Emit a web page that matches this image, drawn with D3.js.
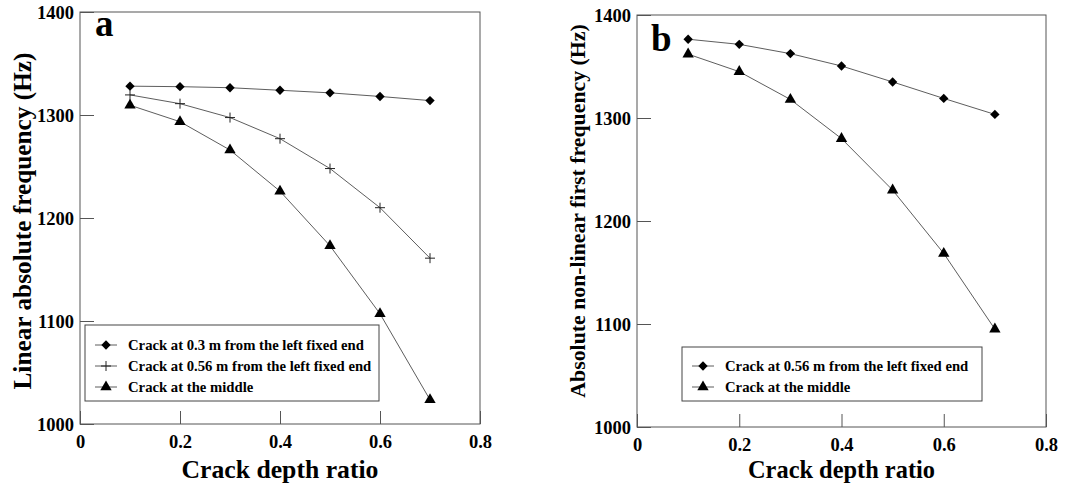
<!DOCTYPE html>
<html>
<head>
<meta charset="utf-8">
<script src="https://cdn.jsdelivr.net/npm/d3@7"></script>
<style>
    body { margin: 0; background: #fff; }
    svg text { font-family: "Liberation Serif", "Times New Roman", serif !important; font-weight: bold; fill: #000; }
</style>
</head>
<body>
<script>
// crack depth ratio on x, frequency (Hz) on y
const depthRatio = [0.1, 0.2, 0.3, 0.4, 0.5, 0.6, 0.7];

// panel a: linear absolute frequency
const aCrack030 = [1328, 1327.5, 1326.5, 1324, 1321.5, 1318, 1314];
const aCrack056 = [1319.5, 1311, 1297.5, 1277, 1248, 1210, 1161];
const aCrackMid = [1309.5, 1293.5, 1266, 1226, 1173, 1107, 1023.5];

// panel b: absolute non-linear first frequency
const bCrack056 = [1376.5, 1371.5, 1362.5, 1350.5, 1335, 1319, 1303.5];
const bCrackMid = [1362, 1345, 1318, 1280, 1230, 1168.5, 1095];

const xTicks = [0, 0.2, 0.4, 0.6, 0.8];
const yTicks = [1000, 1100, 1200, 1300, 1400];

const svgWidth = 1070;
const svgHeight = 489;

const svg = d3.select("body")
    .append("svg")
    .attr("width", svgWidth)
    .attr("height", svgHeight);

function markerPath(type) {
    if (type === "diamond") return d3.symbol().type(d3.symbolSquare).size(44)();
    if (type === "triangle") return d3.symbol().type(d3.symbolTriangle).size(56)();
    return "M-5,0H5M0,-5V5";
}

function drawMarker(g, type, x, y) {
    const p = g.append("path")
        .attr("d", markerPath(type))
        .attr("transform", "translate(" + x + "," + y + ")" + (type === "diamond" ? " rotate(45)" : ""));
    if (type === "plus") {
        p.attr("fill", "none").attr("stroke", "#222").attr("stroke-width", 1);
    } else {
        p.attr("fill", "#000");
    }
}

function drawPanel(p) {
    const x = d3.scaleLinear().domain([0, 0.8]).range([p.left, p.right]);
    const y = d3.scaleLinear().domain([1000, 1400]).range([p.bottom, p.top]);
    const g = svg.append("g");

    // frame
    g.append("rect")
        .attr("x", p.left)
        .attr("y", p.top)
        .attr("width", p.right - p.left)
        .attr("height", p.bottom - p.top)
        .attr("fill", "none")
        .attr("stroke", "#555")
        .attr("stroke-width", 1);

    const yAxis = g.append("g")
        .attr("transform", "translate(" + p.left + ",0)")
        .call(d3.axisLeft(y).tickValues(yTicks).tickSize(-14).tickPadding(6).tickFormat(d3.format("d")));
    const xAxis = g.append("g")
        .attr("transform", "translate(0," + p.bottom + ")")
        .call(d3.axisBottom(x).tickValues(xTicks).tickSize(-13).tickPadding(11).tickFormat(d => d === 0 ? "0" : d3.format(".1f")(d)));

    [yAxis, xAxis].forEach(a => {
        a.attr("font-family", null).attr("font-size", null);
        a.select(".domain").remove();
        a.selectAll("line").attr("stroke", "#555");
        a.selectAll("text")
            .style("font-size", "18.5px")
            .attr("fill", "#000");
    });
    yAxis.selectAll("text").attr("dy", "0.34em");
    xAxis.selectAll("text").attr("dy", "0.71em");

    // series
    const line = d3.line()
        .x((d, i) => x(depthRatio[i]))
        .y(d => y(d));

    p.series.forEach(s => {
        g.append("path")
            .datum(s.values)
            .attr("d", line)
            .attr("fill", "none")
            .attr("stroke", "#333")
            .attr("stroke-width", 0.8);
        s.values.forEach((v, i) => drawMarker(g, s.marker, x(depthRatio[i]), y(v)));
    });

    // panel letter
    g.append("text")
        .attr("x", p.letterX)
        .attr("y", p.letterY)
        .style("font-size", "37px")
        .text(p.letter);

    // axis titles
    g.append("text")
        .attr("x", (p.left + p.right) / 2)
        .attr("y", 478)
        .attr("text-anchor", "middle")
        .style("font-size", p.xTitleSize + "px")
        .text("Crack depth ratio");

    g.append("text")
        .attr("transform", "translate(" + p.yTitleX + "," + p.yTitleY + ") rotate(-90)")
        .attr("text-anchor", "middle")
        .style("font-size", p.yTitleSize + "px")
        .text(p.yTitle);

    // legend
    const lg = g.append("g");
    lg.append("rect")
        .attr("x", p.legend.x)
        .attr("y", p.legend.y)
        .attr("width", p.legend.w)
        .attr("height", p.legend.h)
        .attr("fill", "#fff")
        .attr("stroke", "#444")
        .attr("stroke-width", 1);

    p.series.forEach((s, i) => {
        const ly = p.legend.rowY + i * 21;
        const lx = p.legend.x + 10;
        lg.append("line")
            .attr("x1", lx)
            .attr("x2", lx + 22)
            .attr("y1", ly)
            .attr("y2", ly)
            .attr("stroke", "#333")
            .attr("stroke-width", 0.8);
        drawMarker(lg, s.marker, lx + 11, ly);
        lg.append("text")
            .attr("x", lx + 33)
            .attr("y", ly)
            .attr("dy", "0.34em")
            .style("font-size", "14.7px")
            .text(s.label);
    });
}

drawPanel({
    left: 80, right: 480, top: 12, bottom: 424,
    letter: "a", letterX: 95, letterY: 36,
    xTitleSize: 25.7, yTitleSize: 25.3, yTitleX: 31, yTitleY: 221,
    yTitle: "Linear absolute frequency (Hz)",
    legend: { x: 85, y: 325, w: 294, h: 76, rowY: 345 },
    series: [
        { label: "Crack at 0.3 m from the left fixed end", marker: "diamond", values: aCrack030 },
        { label: "Crack at 0.56 m from the left fixed end", marker: "plus", values: aCrack056 },
        { label: "Crack at the middle", marker: "triangle", values: aCrackMid }
    ]
});

drawPanel({
    left: 637, right: 1046, top: 15, bottom: 427,
    letter: "b", letterX: 651, letterY: 51,
    xTitleSize: 24.4, yTitleSize: 21.8, yTitleX: 585, yTitleY: 211,
    yTitle: "Absolute non-linear first frequency (Hz)",
    legend: { x: 682, y: 347, w: 300, h: 54, rowY: 366 },
    series: [
        { label: "Crack at 0.56 m from the left fixed end", marker: "diamond", values: bCrack056 },
        { label: "Crack at the middle", marker: "triangle", values: bCrackMid }
    ]
});
</script>
</body>
</html>
